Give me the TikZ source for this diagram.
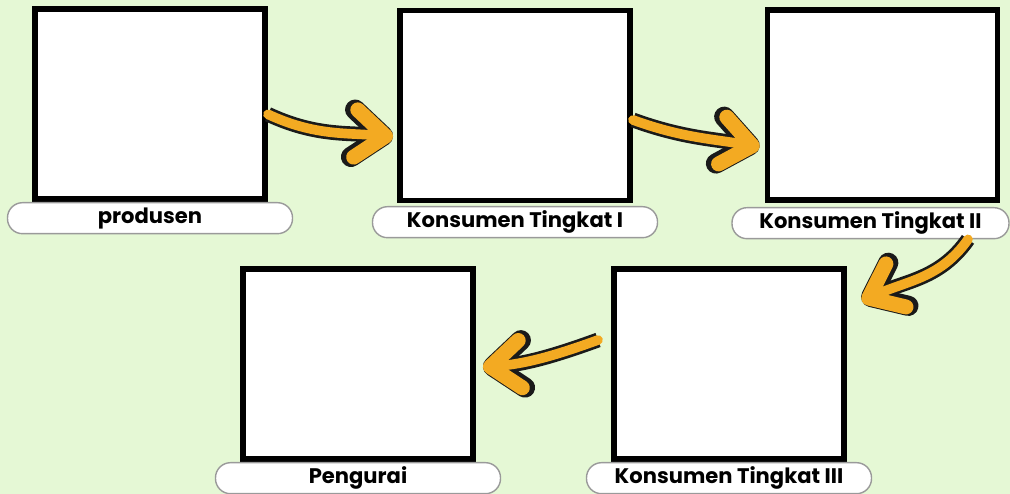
\documentclass[tikz,border=0pt]{standalone}
\usepackage{fontspec}
\setmainfont{Poppins}
\usetikzlibrary{arrows.meta, positioning, calc}
\definecolor{cbg}{HTML}{E5F8D5}
\definecolor{corange}{HTML}{F3AA22}
\definecolor{cline}{HTML}{1A1A1A}
\definecolor{cpill}{HTML}{9A9A9A}

\begin{document}
\begin{tikzpicture}[
  font=\fontsize{12}{14}\selectfont\bfseries,
  frame/.style={draw=black, line width=3.4pt, fill=white,
                minimum width=4.6cm, minimum height=3.8cm},
  pill/.style={draw=cpill, line width=0.8pt, fill=white, rounded corners=0.3cm,
               minimum width=5.7cm, minimum height=0.62cm, inner sep=0pt},
  flow/.style={draw=corange, line width=5.5pt, line cap=round, line join=round,
               -{Straight Barb[round, length=0.6cm, width=0.95cm, line width=3pt 1]},
               preaction={draw=cline, line width=8.5pt}},
  ]
\fill[cbg] (0,0) rectangle (20.2,-9.88);
\useasboundingbox (0,0) rectangle (20.2,-9.88);

% top row
\node[frame] (b1) at (3.00,-2.08) {};
\node[frame] (b2) at (10.30,-2.11) {};
\node[frame] (b3) at (17.65,-2.10) {};
% bottom row
\node[frame] (b4) at (7.16,-7.28) {};
\node[frame] (b5) at (14.58,-7.28) {};

\node[pill, below=0mm of b1] (p1) {produsen};
\node[pill, below=0.5mm of b2] (p2) {Konsumen Tingkat I};
\node[pill, below=0.8mm of b3, xshift=-0.24cm, minimum width=5.54cm] (p3) {Konsumen Tingkat II};
\node[pill, below=0mm of b4] (p4) {Pengurai};
\node[pill, below=0mm of b5] (p5) {Konsumen Tingkat III};

\draw[flow, shorten >=0.08cm] (b1.-5) to[out=-25, in=175] (b2.195);
\draw[flow, shorten >=0.1cm] (b2.-7) to[out=-20, in=170] (b3.200);
\draw[flow] ($(p3.south)+(1.95,0)$) to[out=-125, in=25] ([xshift=0.3cm]b5.28);
\draw[flow, shorten >=0.14cm] ([shift={(-0.26,0.48)}]b5.west) to[out=200, in=5] ([yshift=-0.08cm]b4.east);
\end{tikzpicture}
\end{document}
